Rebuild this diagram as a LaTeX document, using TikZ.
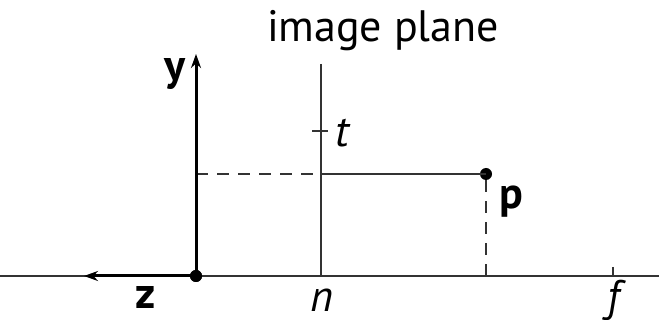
\documentclass[tikz,border=0pt]{standalone}
\usepackage{fontspec}
\setmainfont{PT Sans}
\usetikzlibrary{arrows.meta}
\begin{document}
\begin{tikzpicture}[x=1pt,y=-1pt,
  thin line/.style={line width=1.3pt,draw=black!80},
  dash line/.style={line width=1.3pt,draw=black!80,dash pattern=on 12pt off 9pt},
  bold axis/.style={line width=3pt,-{Stealth[length=14pt,width=10pt]}},
  lbl/.style={inner sep=0pt,font=\fontsize{44}{48}\selectfont},
  dot/.style={circle,fill=black,inner sep=0pt,minimum size=12pt}]
\useasboundingbox (0,0) rectangle (659,320);
% coordinates
\coordinate (L) at (0,276);
\coordinate (R) at (659,276);
\node[dot] (O) at (196,276) {};
\coordinate (Ztip) at (84,276);
\coordinate (Ytip) at (196,54);
\coordinate (Ntop) at (321,64);
\coordinate (Nbot) at (321,276);
\coordinate (Ny) at (321,174);
\coordinate (T1) at (312,131);
\coordinate (T2) at (328,131);
\coordinate (Fa) at (613,267);
\coordinate (Fb) at (613,276);
\coordinate (Pb) at (486,276);
\node[dot] (P) at (486,174) {};
% axis
\draw[thin line] (L) -- (R);
\draw[thin line] (Ntop) -- (Nbot);
\draw[thin line] (T1) -- (T2);
\draw[thin line] (Fa) -- (Fb);
\draw[dash line] (O.center |- Ny) -- (Ny);
\draw[thin line] (Ny) -- (P.center);
\draw[dash line] (P) -- (Pb);
\draw[bold axis] (O.center) -- (Ytip);
\draw[bold axis] (O.center) -- (Ztip);
\node[dot] at (O) {};
% labels
\node[lbl] (title) at (383,31) {image plane};
\node[lbl,font=\fontsize{44}{48}\selectfont\bfseries] (ylab) at (175,74) {y};
\node[lbl,font=\fontsize{44}{48}\selectfont\bfseries] (zlab) at (146,298) {z};
\node[lbl,font=\fontsize{44}{48}\selectfont\bfseries] (plab) at (511,202) {p};
\node[lbl,font=\fontsize{44}{48}\selectfont\itshape] (tlab) at (342,133) {t};
\node[lbl,font=\fontsize{44}{48}\selectfont\itshape] (nlab) at (322,300) {n};
\node[lbl,font=\fontsize{44}{48}\selectfont\itshape] (flab) at (614,300) {f};
\end{tikzpicture}
\end{document}
